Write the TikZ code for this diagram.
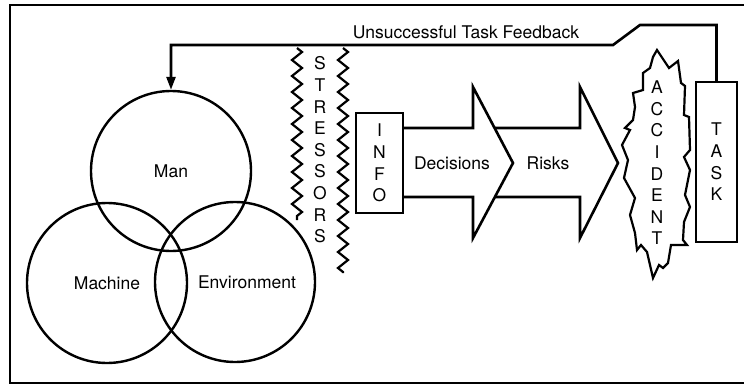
\documentclass[tikz,border=0pt]{standalone}
\usepackage{fontspec}
\setmainfont{TeX Gyre Heros}
\usetikzlibrary{arrows.meta,decorations.pathmorphing}
\tikzset{
  venn/.style={draw, circle, line width=2.4pt, minimum size=160pt, inner sep=0pt, font=\fontsize{17.5}{20}\selectfont},
  lbl/.style={font=\fontsize{17.5}{20}\selectfont, inner sep=0pt},
  stack/.style={font=\fontsize{17.5}{21.6}\selectfont, align=center, inner sep=0pt},
  vbox/.style={draw, rectangle, line width=2.4pt, fill=white, align=center, font=\fontsize{17.5}{21.6}\selectfont, inner sep=0pt},
  bigarrow/.style={draw, line width=2.6pt, fill=white, line join=miter},
  jag/.style={draw, line width=2.2pt, fill=white, line join=miter},
  stressline/.style={line width=2.2pt, decorate, decoration={zigzag, segment length=16pt, amplitude=5pt}},
  feedback/.style={line width=2.6pt, -{Triangle[length=13pt,width=9pt]}}
}

\begin{document}
\begin{tikzpicture}[x=1pt,y=-1pt]
  \clip (0,0) rectangle (744,385);
  \draw[line width=2.4pt] (10,5) rectangle (770,383);

  % man / machine / environment
  \node[venn] (machine) at (107,283) {Machine};
  \node[venn] (env) at (235,282) {};
  \node[lbl] (envlbl) at ([xshift=12pt]env.center) {Environment};
  \node[venn] (man) at (171,171) {Man};

  % stressors
  \coordinate (sLtop) at (297,48);
  \coordinate (sLbot) at (297,220);
  \coordinate (sRtop) at (343,48);
  \coordinate (sRbot) at (343,273);
  \draw[stressline] (sLtop) -- (sLbot);
  \draw[stressline] (sRtop) -- (sRbot);
  \node[stack] (stress) at (320,150) {S\\T\\R\\E\\S\\S\\O\\R\\S};

  % the two big arrows
  \draw[bigarrow] (490,128) -- (580,128) -- (580,87) -- (618,163) -- (580,238) -- (580,197) -- (490,197);
  \draw[bigarrow] (400,128) -- (473,128) -- (473,87) -- (513,163) -- (473,238) -- (473,197) -- (400,197);
  \node[lbl] (dec) at (452,163) {Decisions};
  \node[lbl] (risk) at (548,163) {Risks};

  \node[vbox, minimum width=47pt, minimum height=100pt] (info) at (379.5,163) {I\\N\\F\\O};

  % accident burst
  \draw[jag] (657,50) -- (669,68) -- (678,61) -- (681,83) -- (685,86) -- (684,115) -- (689,117)
    -- (690,150) -- (684,157) -- (690,170) -- (685,195) -- (690,207) -- (684,222) -- (683,240)
    -- (687,245) -- (671,245) -- (668,263) -- (663,268) -- (659,265) -- (653,278) -- (647,252)
    -- (641,245) -- (637,250) -- (635,233) -- (630,215) -- (635,198) -- (624,178) -- (628,160)
    -- (622,145) -- (630,130) -- (625,128) -- (633,120) -- (635,107) -- (633,93) -- (643,90)
    -- (643,73) -- (650,68) -- (653,57) -- cycle;
  \node[stack] (acc) at (657,163) {A\\C\\C\\I\\D\\E\\N\\T};

  \node[vbox, minimum width=41pt, minimum height=160pt] (task) at (716.5,162) {T\\A\\S\\K};

  % feedback loop
  \coordinate (fbA) at (640,25);
  \coordinate (fbB) at (613,45);
  \draw[feedback, line join=miter] (task.north) |- (fbA) -- (fbB) -| (man.north);
  \node[lbl] (fblbl) at (466,32) {Unsuccessful Task Feedback};
\end{tikzpicture}
\end{document}
